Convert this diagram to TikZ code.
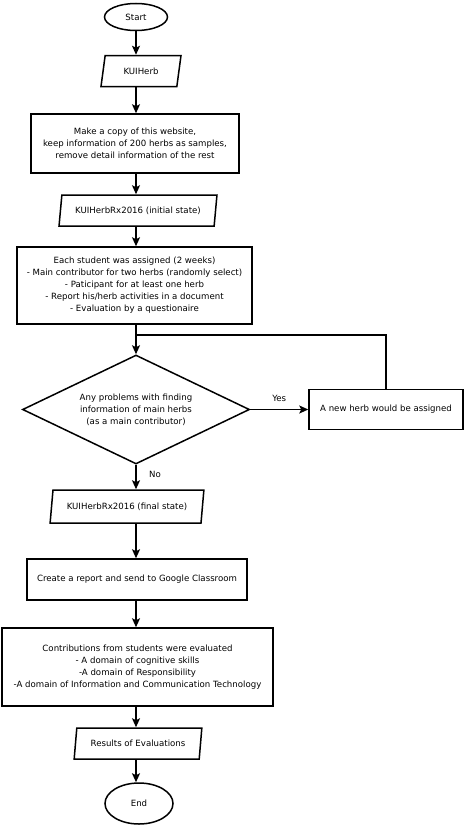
\documentclass[tikz,border=0pt]{standalone}
\usepackage{fontspec}
\setmainfont{DejaVu Sans}
\usetikzlibrary{shapes.geometric, arrows.meta, positioning}

\begin{document}
\begin{tikzpicture}[x=1pt, y=-1pt, line width=1.5pt,
		every node/.style={font=\fontsize{8.6}{12}\selectfont, align=center},
		terminal/.style={draw, ellipse, inner sep=0pt},
		io/.style={draw, trapezium, trapezium left angle=73, trapezium right angle=107, trapezium stretches=true, inner sep=0pt},
		process/.style={draw, rectangle, inner sep=0pt},
		decision/.style={draw, diamond, aspect=2.1, inner sep=0pt},
		flow/.style={-{Stealth[length=9pt, width=8pt, inset=2pt]}}]
		\useasboundingbox (0,0) rectangle (465,827);
		% Main column
		\coordinate (col) at (136,0);
		\node[terminal, minimum width=63pt, minimum height=27pt] (start) at (136,17) {Start};
		\node[io, minimum width=80pt, minimum height=31pt] (kui) at (141,71) {KUIHerb};
		\node[process, minimum width=208pt, minimum height=59pt] (copy) at (135,143.5) {Make a copy of this website,\\keep information of 200 herbs as samples,\\remove detail information of the rest};
		\node[io, minimum width=158pt, minimum height=31pt] (init) at (138,210.5) {KUIHerbRx2016 (initial state)};
		\node[process, minimum width=235pt, minimum height=77pt] (assign) at (134.5,285.5) {Each student was assigned (2 weeks)\\- Main contributor for two herbs (randomly select)\\- Paticipant for at least one herb\\- Report his/herb activities in a document\\- Evaluation by a questionaire};
		\node[decision, minimum width=227pt, minimum height=109pt] (prob) at (136,409.5) {Any problems with finding\\information of main herbs\\(as a main contributor)};
		\node[process, minimum width=154pt, minimum height=40pt] (newherb) at (386,409.5) {A new herb would be assigned};
		\node[io, minimum width=154pt, minimum height=33pt] (final) at (127,506.5) {KUIHerbRx2016 (final state)};
		\node[process, minimum width=220pt, minimum height=41pt] (report) at (137,579.5) {Create a report and send to Google Classroom};
		\node[process, minimum width=271pt, minimum height=78pt] (eval) at (137.5,667) {Contributions from students were evaluated\\- A domain of cognitive skills\\-A domain of Responsibility\\-A domain of Information and Communication Technology};
		\node[io, minimum width=128pt, minimum height=31pt] (results) at (138,743.5) {Results of Evaluations};
		\node[terminal, minimum width=68pt, minimum height=41pt] (end) at (139,803.5) {End};

		% Arrows
		\draw[flow] (start) -- (col |- kui.north);
		\draw[flow] (col |- kui.south) -- (col |- copy.north);
		\draw[flow] (col |- copy.south) -- (col |- init.north);
		\draw[flow] (col |- init.south) -- (col |- assign.north);
		\coordinate (join) at (136,335);
		\draw (col |- assign.south) -- (join);
		\draw[flow] (join) -- (prob.north);
		\draw[flow] (prob.east) -- node[above=4pt] {Yes} (prob.east -| newherb.west);
		\draw (newherb.north) |- (join);
		\draw[flow] (prob.south) -- node[right=9pt, pos=0.4] {No} (col |- final.north);
		\draw[flow] (col |- final.south) -- (col |- report.north);
		\draw[flow] (col |- report.south) -- (col |- eval.north);
		\draw[flow] (col |- eval.south) -- (col |- results.north);
		\draw[flow] (col |- results.south) -- (col |- end.north);
	\end{tikzpicture}
\end{document}
